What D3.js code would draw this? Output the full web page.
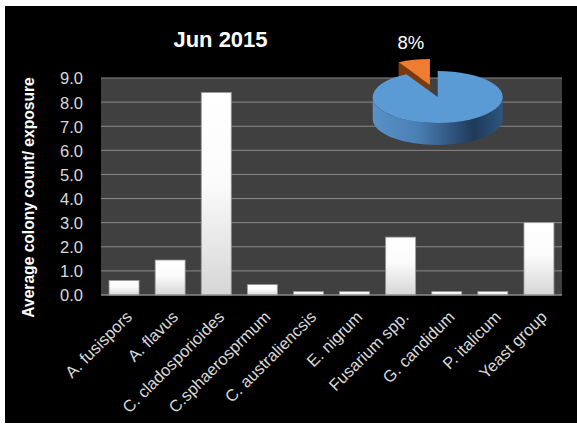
<!DOCTYPE html>
<html>
<head>
<meta charset="utf-8">
<script src="https://cdn.jsdelivr.net/npm/d3@7"></script>
<style>
  html, body { margin: 0; padding: 0; background: #ffffff; }
  svg { display: block; }
  text { font-family: "Liberation Sans", Arial, sans-serif; }
</style>
</head>
<body>
<svg id="chart" width="577" height="424"></svg>
<script>
// Monthly mould survey: average colony count per exposure
const title = "Jun 2015";
const categories = [
  "A. fusispors", "A. flavus", "C. cladosporioides", "C.sphaerosprmum",
  "C. australiencsis", "E. nigrum", "Fusarium spp.", "G. candidum",
  "P. italicum", "Yeast group"
];
const values = [0.6, 1.45, 8.4, 0.43, 0.14, 0.14, 2.4, 0.14, 0.14, 3.0];
const yTicks = [0, 1, 2, 3, 4, 5, 6, 7, 8, 9];
const yLabel = "Average colony count/ exposure";

// Inset pie: share of the highlighted slice
const pieNames = ["other", "highlight"];
const pieShares = [92, 8];

const svg = d3.select("#chart");
const W = 577, H = 424;

// black chart canvas
svg.append("rect").attr("x", 5).attr("y", 6).attr("width", W - 5).attr("height", H - 7)
  .attr("fill", "#000000");

const plot = { left: 101, right: 562, top: 78, bottom: 295 };

const x = d3.scaleBand().domain(categories)
  .range([plot.left, plot.right]).paddingInner(0.35).paddingOuter(0.175);
const y = d3.scaleLinear().domain([0, 9]).range([plot.bottom, plot.top]);

const defs = svg.append("defs");
const barGrad = defs.append("linearGradient").attr("id", "barFill")
  .attr("x1", 0).attr("y1", 0).attr("x2", 0).attr("y2", 1);
barGrad.append("stop").attr("offset", "0%").attr("stop-color", "#ffffff");
barGrad.append("stop").attr("offset", "45%").attr("stop-color", "#fbfbfb");
barGrad.append("stop").attr("offset", "100%").attr("stop-color", "#d6d6d6");

// plot area
svg.append("rect").attr("x", plot.left).attr("y", plot.top)
  .attr("width", plot.right - plot.left).attr("height", plot.bottom - plot.top)
  .attr("fill", "#404040");

// gridlines
svg.append("g").selectAll("line").data(yTicks).join("line")
  .attr("x1", plot.left).attr("x2", plot.right)
  .attr("y1", d => y(d)).attr("y2", d => y(d))
  .attr("stroke", "#8a8a8a").attr("stroke-width", 1);

// y axis tick labels
const yAxis = svg.append("g").attr("transform", `translate(${plot.left},0)`)
  .call(d3.axisLeft(y).tickValues(yTicks).tickFormat(d3.format(".1f")).tickSize(0).tickPadding(18));
yAxis.select(".domain").remove();
yAxis.selectAll("text")
  .attr("fill", "#d9d9d9").attr("font-size", "16.5px")
  .attr("font-family", "Liberation Sans, Arial, sans-serif")
  .attr("dy", "0.36em");

// bars
svg.append("g").selectAll("rect").data(values).join("rect")
  .attr("x", (d, i) => x(categories[i]))
  .attr("width", x.bandwidth())
  .attr("y", d => y(d))
  .attr("height", d => y(0) - y(d))
  .attr("fill", "url(#barFill)")
  .attr("stroke", "#9a9a9a").attr("stroke-width", 0.8);

// x axis baseline
svg.append("line").attr("x1", plot.left).attr("x2", plot.right)
  .attr("y1", y(0)).attr("y2", y(0)).attr("stroke", "#8a8a8a").attr("stroke-width", 1.2);

// category labels, rotated
svg.append("g").selectAll("text").data(categories).join("text")
  .attr("transform", d => `translate(${x(d) + x.bandwidth() / 2 + 9},${plot.bottom + 23}) rotate(-45)`)
  .attr("text-anchor", "end")
  .attr("fill", "#d9d9d9").attr("font-size", "16.5px")
  .text(d => d);

// y axis title
svg.append("text")
  .attr("transform", `translate(34,197.5) rotate(-90)`)
  .attr("text-anchor", "middle")
  .attr("fill", "#ffffff").attr("font-size", "15.6px").attr("font-weight", "bold")
  .text(yLabel);

// chart title
svg.append("text").attr("x", 220.5).attr("y", 46.5)
  .attr("text-anchor", "middle").attr("fill", "#ffffff")
  .attr("font-size", "22px").attr("font-weight", "bold")
  .text(title);

// ---- 3D inset pie ----
const pc = { cx: 437.7, cy: 97, rx: 65, ry: 26, depth: 22 };
const pieColors = { other: "#5b9bd5", highlight: "#ed7d31" };
const sideDark = { highlight: "#7a3a10" };

const arcs = d3.pie().sort(null).startAngle(0).endAngle(2 * Math.PI)(pieShares);
const pt = (a, ox, oy, dz) => [pc.cx + ox + pc.rx * Math.sin(a), pc.cy + oy - pc.ry * Math.cos(a) + (dz || 0)];

const sideGrad = defs.append("linearGradient").attr("id", "pieSide")
  .attr("gradientUnits", "userSpaceOnUse")
  .attr("x1", pc.cx - pc.rx).attr("x2", pc.cx + pc.rx).attr("y1", 0).attr("y2", 0);
sideGrad.append("stop").attr("offset", "0%").attr("stop-color", "#5892c9");
sideGrad.append("stop").attr("offset", "35%").attr("stop-color", "#4a7fb3");
sideGrad.append("stop").attr("offset", "78%").attr("stop-color", "#1e3a5a");
sideGrad.append("stop").attr("offset", "100%").attr("stop-color", "#2d5680");

const pieG = svg.append("g");

function topPath(a0, a1, ox, oy) {
  const c = [pc.cx + ox, pc.cy + oy];
  const p0 = pt(a0, ox, oy), p1 = pt(a1, ox, oy);
  const large = (a1 - a0) > Math.PI ? 1 : 0;
  return `M${c}L${p0}A${pc.rx},${pc.ry} 0 ${large} 1 ${p1}Z`;
}
function sidePath(a0, a1, ox, oy) {
  const s = Math.max(a0, Math.PI / 2), e = Math.min(a1, 3 * Math.PI / 2);
  if (e <= s) return null;
  const p0 = pt(s, ox, oy), p1 = pt(e, ox, oy);
  const q1 = pt(e, ox, oy, pc.depth), q0 = pt(s, ox, oy, pc.depth);
  return `M${p0}A${pc.rx},${pc.ry} 0 0 1 ${p1}L${q1}A${pc.rx},${pc.ry} 0 0 0 ${q0}Z`;
}

// exploded highlight slice (behind)
arcs.forEach((a, i) => {
  if (pieNames[i] !== "highlight") return;
  const mid = (a.startAngle + a.endAngle) / 2;
  const ox = 0.48 * pc.rx * Math.sin(mid), oy = -0.48 * pc.ry * Math.cos(mid);
  const c = [pc.cx + ox, pc.cy + oy];
  const p0 = pt(a.startAngle, ox, oy);
  // cut face along the slice's leading edge
  pieG.append("path")
    .attr("d", `M${c}L${p0}L${[p0[0], p0[1] + pc.depth]}L${[c[0], c[1] + pc.depth]}Z`)
    .attr("fill", sideDark.highlight);
  pieG.append("path").attr("d", topPath(a.startAngle, a.endAngle, ox, oy))
    .attr("fill", pieColors.highlight);
  // percentage label
  const lp = pt(mid, ox * 1.0, oy, 0);
  pieG.append("text")
    .attr("x", lp[0] - 3).attr("y", lp[1] - 11)
    .attr("text-anchor", "middle").attr("fill", "#ffffff")
    .attr("font-size", "18.5px")
    .text(Math.round(pieShares[i]) + "%");
});

// main slice
arcs.forEach((a, i) => {
  if (pieNames[i] !== "other") return;
  const sp = sidePath(a.startAngle, a.endAngle, 0, 0);
  if (sp) pieG.append("path").attr("d", sp).attr("fill", "url(#pieSide)");
  pieG.append("path").attr("d", topPath(a.startAngle, a.endAngle, 0, 0))
    .attr("fill", pieColors.other);
});
</script>
</body>
</html>
